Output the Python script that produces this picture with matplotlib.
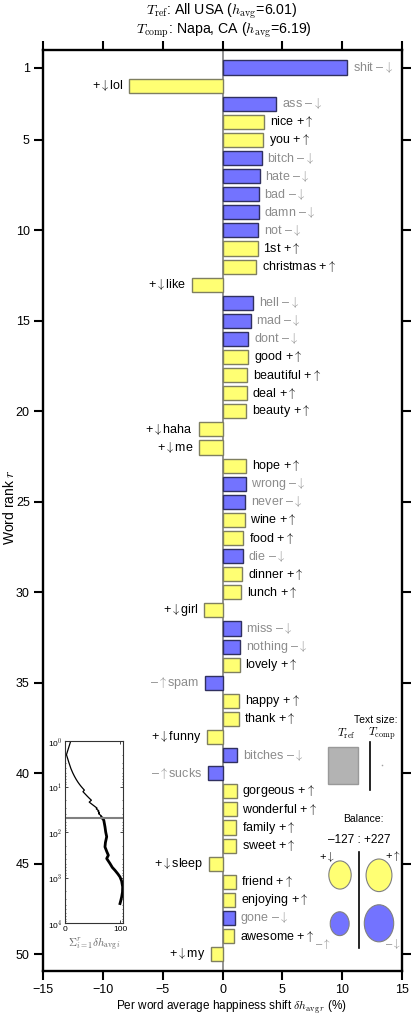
import numpy as np
import matplotlib
matplotlib.use('Agg')
import matplotlib.pyplot as plt
from matplotlib.patches import Ellipse, Rectangle

plt.rcParams['font.family'] = ['Liberation Sans', 'DejaVu Sans']
plt.rcParams['mathtext.fontset'] = 'cm'

# Datos: palabras ordenadas por rango, contribucion (%) y si la palabra es feliz (+) o triste (-)
words = ['shit', 'lol', 'ass', 'nice', 'you', 'bitch', 'hate', 'bad', 'damn', 'not',
         '1st', 'christmas', 'like', 'hell', 'mad', 'dont', 'good', 'beautiful', 'deal', 'beauty',
         'haha', 'me', 'hope', 'wrong', 'never', 'wine', 'food', 'die', 'dinner', 'lunch',
         'girl', 'miss', 'nothing', 'lovely', 'spam', 'happy', 'thank', 'funny', 'bitches', 'sucks',
         'gorgeous', 'wonderful', 'family', 'sweet', 'sleep', 'friend', 'enjoying', 'gone', 'awesome', 'my']
shifts = [10.44, -7.80, 4.51, 3.48, 3.40, 3.26, 3.12, 3.03, 3.01, 2.98,
          2.95, 2.84, -2.56, 2.55, 2.36, 2.17, 2.15, 2.06, 2.03, 2.00,
          -1.98, -1.97, 1.96, 1.94, 1.92, 1.86, 1.75, 1.70, 1.64, 1.56,
          -1.54, 1.53, 1.50, 1.45, -1.44, 1.39, 1.34, -1.29, 1.25, -1.20,
          1.19, 1.17, 1.15, 1.13, -1.10, 1.09, 1.07, 1.01, 0.99, -0.98]
signs = ['-', '+', '-', '+', '+', '-', '-', '-', '-', '-',
         '+', '+', '+', '-', '-', '-', '+', '+', '+', '+',
         '+', '+', '+', '-', '-', '+', '+', '-', '+', '+',
         '+', '-', '-', '+', '-', '+', '+', '+', '-', '-',
         '+', '+', '+', '+', '+', '+', '+', '-', '+', '+']

tail_ranks = [55, 77, 100, 127, 170, 213, 270, 324, 383, 493, 600, 696, 830, 971, 1200, 1600, 2100, 2680, 3200, 3740]
tail_cum = [70.5, 72.7, 74.0, 75.8, 73.5, 72.7, 76.0, 78.8, 75.8, 81.8, 86.0, 90.9, 96.0, 100.0, 103.0, 104.8, 104.5, 103.0, 101.5, 100.0]

# balance: +abajo, +arriba, -arriba, -abajo
balance = {'+d': 74, '+u': 99, '-u': 53, '-d': 128}
text_sizes = [1.0, 0.001]  # T_ref, T_comp

title_ref = r'$T_{\rm ref}$: All USA ($h_{\rm avg}$=6.01)'
title_comp = r'$T_{\rm comp}$: Napa, CA ($h_{\rm avg}$=6.19)'

UP = r'$\uparrow$'
DOWN = r'$\downarrow$'
DASH = '\u2013'

yellow = '#FFFF73'
blue = '#7373FF'
grey_txt = '#8C8C8C'

W, H = 415, 1018
fig = plt.figure(figsize=(W / 100, H / 100), dpi=100)

def fx(px):
    return px / W

def fy(py):
    return 1 - py / H

ax = fig.add_axes([fx(43), fy(971), fx(402) - fx(43), fy(50) - fy(971)])
ranks = np.arange(1, len(words) + 1)
colors = [yellow if s == '+' else blue for s in signs]
edges = ['#7F7F60' if s == '+' else '#303060' for s in signs]
ax.axvline(0, color='#808080', lw=1.2, zorder=1)
ax.barh(ranks, shifts, height=0.78, color=colors, edgecolor=edges, linewidth=1, zorder=2)

for r, w, v, s in zip(ranks, words, shifts, signs):
    col = 'black' if s == '+' else grey_txt
    if v > 0:
        arrow = '+' + UP if s == '+' else DASH + DOWN
        ax.annotate(w + ' ' + arrow, (v, r), xytext=(4, 0), textcoords='offset points',
                    ha='left', va='center', fontsize=9, color=col)
    else:
        arrow = '+' + DOWN if s == '+' else DASH + UP
        ax.annotate(arrow + w, (v, r), xytext=(-4, 0), textcoords='offset points',
                    ha='right', va='center', fontsize=9, color=col)

ax.set_xlim(-15, 15)
ax.set_ylim(50.93, 0.03)
ax.set_xticks(np.arange(-15, 16, 5))
ax.set_yticks([1] + list(range(5, 51, 5)))
ax.tick_params(direction='out', length=6.5, width=1.5, top=True, right=True, labelsize=9, pad=3)
for sp in ax.spines.values():
    sp.set_linewidth(1.7)

fig.text(fx(222), fy(11), title_ref, ha='center', va='center', fontsize=10.2)
fig.text(fx(224), fy(30), title_comp, ha='center', va='center', fontsize=10.2)
fig.text(fx(10), fy(507), r'Word rank $r$', rotation=90, ha='center', va='center', fontsize=10)
fig.text(fx(231), fy(1007), r'Per word average happiness shift $\delta h_{{\rm avg}\,r}$ (%)',
         ha='center', va='center', fontsize=8.5)

# inset: suma acumulada
axi = fig.add_axes([fx(65), fy(923), fx(123.3) - fx(65), fy(741) - fy(923)])
cum = np.cumsum(shifts)
axi.plot(cum, ranks, color='black', lw=0.9)
axi.plot([cum[-1]] + tail_cum, [ranks[-1]] + tail_ranks, color='black', lw=2)
axi.axhline(50, color='#808080', lw=1.5)
axi.set_yscale('log')
axi.set_ylim(1e4, 1)
axi.set_xlim(0, 106)
axi.set_xticks([0, 100])
axi.set_yticks([1, 10, 100, 1000, 10000])
axi.set_yticklabels([r'10$^{%d}$' % k for k in range(5)])
axi.tick_params(labelsize=6, direction='in', length=2, width=0.5, pad=2, right=True, top=True)
axi.tick_params(which='minor', direction='in', length=1, width=0.4, right=True)
for sp in axi.spines.values():
    sp.set_linewidth(0.8)
    sp.set_color('#333333')
axi.set_xlabel(r'$\Sigma_{i=1}^{r}\delta h_{{\rm avg}\,i}$', fontsize=8, color='#666666', labelpad=2)

# panel de tamano de texto y balance (coordenadas en pixeles)
ov = fig.add_axes([0, 0, 1, 1])
ov.set_xlim(0, W)
ov.set_ylim(H, 0)
ov.axis('off')

ov.text(397, 720, 'Text size:', ha='right', va='center', fontsize=7.5)
ov.text(346.7, 734, r'$T_{\rm ref}$', ha='center', va='center', fontsize=8.5)
ov.text(381.7, 734, r'$T_{\rm comp}$', ha='center', va='center', fontsize=8.5)
ov.plot([370.3, 370.3], [741.7, 790], color='black', lw=1.2)
k_t = 30.0
for cx, ts in zip([343.3, 382.7], text_sizes):
    w = k_t * np.sqrt(ts)
    h = 1.23 * w
    ov.add_patch(Rectangle((cx - w / 2, 765.7 - h / 2), w, h, facecolor='#B3B3B3',
                           edgecolor='#999999', lw=1 if ts > 0.01 else 0.3))

neg = balance['+d'] + balance['-u']
pos = balance['+u'] + balance['-d']
ov.text(363, 819, 'Balance:', ha='center', va='center', fontsize=7.5)
ov.text(359, 840, DASH + '%d : +%d' % (neg, pos), ha='center', va='center', fontsize=8.5)
ov.plot([359.3, 359.3], [851.7, 947.7], color='black', lw=1.2)
k_b = 2.6
spots = {'+d': (340, 875), '+u': (379, 875.3), '-u': (339.7, 923.7), '-d': (379, 923.3)}
for key, (cx, cy) in spots.items():
    w = k_b * np.sqrt(balance[key])
    fc = yellow if key[0] == '+' else blue
    ov.add_patch(Ellipse((cx, cy), w, 1.26 * w, facecolor=fc, edgecolor='#808080', lw=0.8))
ov.text(327, 856.7, '+' + DOWN, ha='center', va='center', fontsize=8)
ov.text(393, 856, '+' + UP, ha='center', va='center', fontsize=8)
ov.text(323, 944, DASH + UP, ha='center', va='center', fontsize=8, color=grey_txt)
ov.text(393, 944, DASH + DOWN, ha='center', va='center', fontsize=8, color=grey_txt)

fig.savefig('out.png', dpi=100)
